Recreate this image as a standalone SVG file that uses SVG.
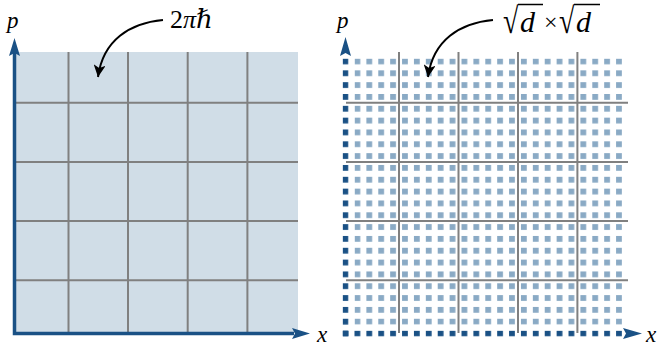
<svg xmlns="http://www.w3.org/2000/svg" width="659" height="348" viewBox="0 0 659 348">
<style>
.grid{stroke:#808080;stroke-width:2;fill:none}
.axis{stroke:#1a5185;stroke-width:3.5;fill:none}
.head{fill:#1a5185}
.curve{stroke:#000;stroke-width:2;fill:none}
.it{font-family:"Liberation Serif","DejaVu Serif",serif;font-style:italic;fill:#000}
.rm{font-family:"Liberation Serif","DejaVu Serif",serif;fill:#000}
.bar{stroke:#000;stroke-width:1.4;fill:none}
</style>
<defs>
<pattern id="lite" patternUnits="userSpaceOnUse" x="342.6" y="330.6" width="11.89" height="11.83">
<rect x="0" y="0" width="5.8" height="5.8" fill="#8aaac5"/>
</pattern>
<pattern id="dark" patternUnits="userSpaceOnUse" x="342.6" y="330.6" width="11.89" height="11.83">
<rect x="0" y="0" width="5.8" height="5.8" fill="#1a5185"/>
</pattern>
<marker id="ah" markerWidth="14" markerHeight="12" refX="12" refY="6" orient="auto" markerUnits="userSpaceOnUse">
<path d="M0,0 L12,6 L0,12 L3,6 Z" fill="#000"/>
</marker>
</defs>

<g id="left-panel">
<rect x="16" y="52" width="282" height="281" fill="#d0dde7"/>
<path class="grid" d="M68.5,52V333M128,52V333M187.7,52V333M247.4,52V333M16,102.8H298M16,162H298M16,221.1H298M16,280.3H298"/>
</g>

<g id="left-axes">
<path class="axis" d="M14.5,335.2V52M12.8,333.5H294"/>
<path class="head" d="M14.5,38 L20,56 L14.5,53 L9,56 Z"/>
<path class="head" d="M310,333.5 L292,339 L295,333.5 L292,328 Z"/>
<text class="it" x="7" y="28" font-size="23">p</text>
<text class="it" x="317" y="342" font-size="23">x</text>
</g>

<g id="left-label">
<text class="rm" x="170" y="28" font-size="26">2<tspan font-style="italic">πℏ</tspan></text>
</g>

<g id="right-panel">
<rect x="354.6" y="58.6" width="267.6" height="266" fill="url(#lite)"/>
<rect x="342.6" y="58.6" width="6" height="278" fill="url(#dark)"/>
<rect x="342.6" y="330.6" width="279.6" height="6" fill="url(#dark)"/>
<path class="grid" d="M399,52V333M458.5,52V333M518,52V333M577.4,52V333M346,102.8H628M346,162H628M346,221.1H628M346,280.3H628"/>
</g>

<g id="right-axes">
<path class="head" d="M345.5,37 L351,56 L345.5,53 L340,56 Z"/>
<path class="head" d="M642,333.5 L623,339 L626,333.5 L623,328 Z"/>
<text class="it" x="337" y="28" font-size="23">p</text>
<text class="it" x="646" y="342" font-size="23">x</text>
</g>

<g id="right-label">
<text class="rm" transform="translate(503,33) scale(1,1.3)" font-size="28">√</text>
<text class="it" x="520" y="32" font-size="30">d</text>
<text class="rm" x="544" y="30" font-size="24">×</text>
<text class="rm" transform="translate(559,33) scale(1,1.3)" font-size="28">√</text>
<text class="it" x="576" y="32" font-size="30">d</text>
<path class="bar" d="M518,4.5H543M574,4.5H600"/>
</g>

<g id="connectors">
<path class="curve" d="M163,20 C130,23 103,40 98,77" marker-end="url(#ah)"/>
<path class="curve" d="M493,20 C460,23 433,40 428,77" marker-end="url(#ah)"/>
</g>
</svg>
